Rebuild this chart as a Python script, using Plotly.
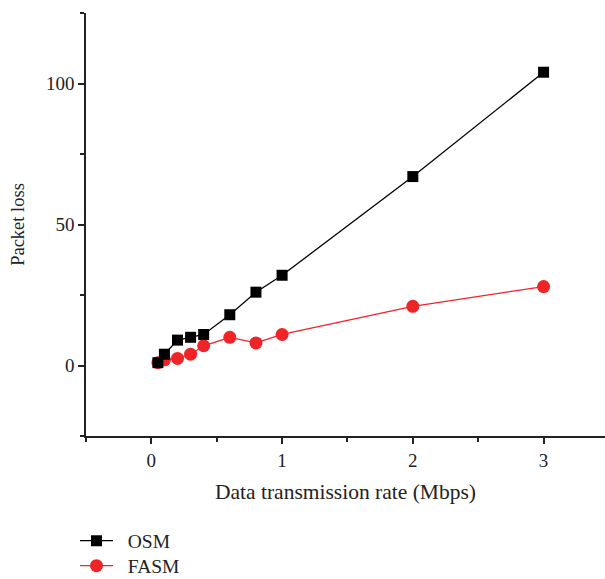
import plotly.graph_objects as go

rates = [0.05, 0.1, 0.2, 0.3, 0.4, 0.6, 0.8, 1, 2, 3]
osm = [1, 4, 9, 10, 11, 18, 26, 32, 67, 104]
fasm = [1, 2, 2.5, 4, 7, 10, 8, 11, 21, 28]

x_ticks = [0, 1, 2, 3]
y_ticks = [0, 50, 100]

font_family = "Liberation Serif"
ink = "#222"
pad = "\u00a0\u00a0"

fig = go.Figure()
fig.add_trace(go.Scatter(x=rates, y=fasm, name=pad + "FASM", mode="lines+markers",
                         legend="legend2",
                         line=dict(color="#ee2427", width=1.3),
                         marker=dict(symbol="circle", size=13, color="#ee2427")))
fig.add_trace(go.Scatter(x=rates, y=osm, name=pad + "OSM", mode="lines+markers",
                         legend="legend",
                         line=dict(color="#000000", width=1.3),
                         marker=dict(symbol="square", size=11, color="#000000")))

axis_common = dict(showgrid=False, zeroline=False, showline=True, linecolor=ink,
                   linewidth=1.5, ticks="outside", ticklen=6, tickwidth=1.5, tickcolor=ink,
                   automargin=False,
                   tickfont=dict(family=font_family, size=19, color=ink))

fig.update_xaxes(range=[-0.5, 3.47], tickvals=x_ticks, ticktext=[str(v) for v in x_ticks],
                 minor=dict(dtick=0.5, tick0=-0.5, ticks="outside", ticklen=4, tickwidth=1.5, tickcolor=ink),
                 title=dict(text="Data transmission rate (Mbps)", font=dict(family=font_family, size=21.5, color=ink), standoff=14),
                 **axis_common)
fig.update_yaxes(range=[-25, 125], tickvals=y_ticks, ticktext=[str(v) for v in y_ticks],
                 minor=dict(dtick=25, tick0=-25, ticks="outside", ticklen=4, tickwidth=1.5, tickcolor=ink),
                 title=dict(text="Packet loss", font=dict(family=font_family, size=18.5, color=ink), standoff=16),
                 **axis_common)

legend_style = dict(xanchor="left", yanchor="middle", itemwidth=33,
                    font=dict(family=font_family, size=19.5, color=ink),
                    bgcolor="rgba(0,0,0,0)")

fig.update_layout(width=605, height=586, margin=dict(l=86, r=0, t=13, b=144.7),
                  plot_bgcolor="white", paper_bgcolor="white",
                  font=dict(family=font_family, size=19, color=ink),
                  legend=dict(x=-0.0212, y=-0.2483, **legend_style),
                  legend2=dict(x=-0.0212, y=-0.3074, **legend_style),
                  showlegend=True)

fig.write_html(
    "out.html",
    config={"displayModeBar": False},
    post_script=(
        "document.documentElement.style.overflow='hidden';"
        "document.body.style.margin='0';"
        "document.body.style.overflow='hidden';"
    ),
)
